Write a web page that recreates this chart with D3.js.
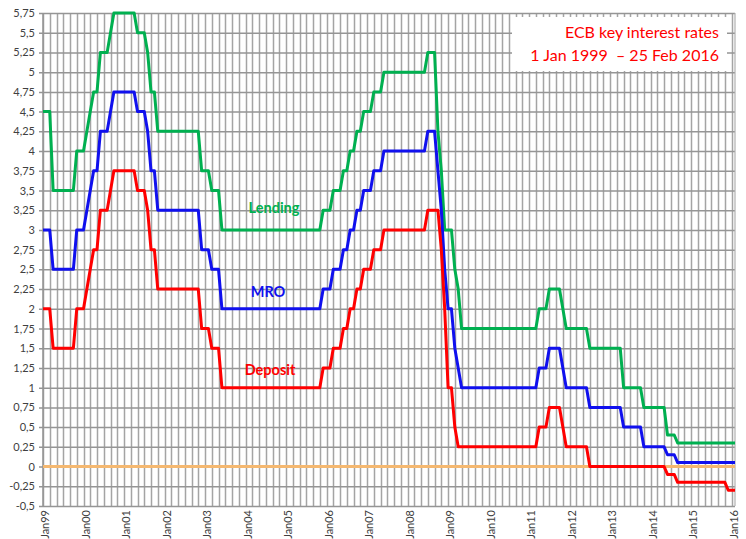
<!DOCTYPE html>
<html>
<head>
<meta charset="utf-8">
<script src="https://cdnjs.cloudflare.com/ajax/libs/d3/7.8.5/d3.min.js"></script>
<style>
  body { margin:0; background:#fff; }
  svg text { font-family: Lato, "Open Sans", "Liberation Sans", sans-serif; }
</style>
</head>
<body>
<div class="viz"></div>
<script>
'use strict';

// month-end rates, Jan 1999 .. Feb 2016 (one row per year)
var deposit = [
  2, 2, 2, 1.5, 1.5, 1.5, 1.5, 1.5, 1.5, 1.5, 2, 2,
  2, 2.25, 2.5, 2.75, 2.75, 3.25, 3.25, 3.25, 3.5, 3.75, 3.75, 3.75,
  3.75, 3.75, 3.75, 3.75, 3.5, 3.5, 3.5, 3.25, 2.75, 2.75, 2.25, 2.25,
  2.25, 2.25, 2.25, 2.25, 2.25, 2.25, 2.25, 2.25, 2.25, 2.25, 2.25, 1.75,
  1.75, 1.75, 1.5, 1.5, 1.5, 1, 1, 1, 1, 1, 1, 1,
  1, 1, 1, 1, 1, 1, 1, 1, 1, 1, 1, 1,
  1, 1, 1, 1, 1, 1, 1, 1, 1, 1, 1, 1.25,
  1.25, 1.25, 1.5, 1.5, 1.5, 1.75, 1.75, 2, 2, 2.25, 2.25, 2.5,
  2.5, 2.5, 2.75, 2.75, 2.75, 3, 3, 3, 3, 3, 3, 3,
  3, 3, 3, 3, 3, 3, 3.25, 3.25, 3.25, 3.25, 2.75, 2,
  1, 1, 0.5, 0.25, 0.25, 0.25, 0.25, 0.25, 0.25, 0.25, 0.25, 0.25,
  0.25, 0.25, 0.25, 0.25, 0.25, 0.25, 0.25, 0.25, 0.25, 0.25, 0.25, 0.25,
  0.25, 0.25, 0.25, 0.5, 0.5, 0.5, 0.75, 0.75, 0.75, 0.75, 0.5, 0.25,
  0.25, 0.25, 0.25, 0.25, 0.25, 0.25, 0, 0, 0, 0, 0, 0,
  0, 0, 0, 0, 0, 0, 0, 0, 0, 0, 0, 0,
  0, 0, 0, 0, 0, -0.1, -0.1, -0.1, -0.2, -0.2, -0.2, -0.2,
  -0.2, -0.2, -0.2, -0.2, -0.2, -0.2, -0.2, -0.2, -0.2, -0.2, -0.2, -0.3,
  -0.3, -0.3
]

var mro = [
  3, 3, 3, 2.5, 2.5, 2.5, 2.5, 2.5, 2.5, 2.5, 3, 3,
  3, 3.25, 3.5, 3.75, 3.75, 4.25, 4.25, 4.25, 4.5, 4.75, 4.75, 4.75,
  4.75, 4.75, 4.75, 4.75, 4.5, 4.5, 4.5, 4.25, 3.75, 3.75, 3.25, 3.25,
  3.25, 3.25, 3.25, 3.25, 3.25, 3.25, 3.25, 3.25, 3.25, 3.25, 3.25, 2.75,
  2.75, 2.75, 2.5, 2.5, 2.5, 2, 2, 2, 2, 2, 2, 2,
  2, 2, 2, 2, 2, 2, 2, 2, 2, 2, 2, 2,
  2, 2, 2, 2, 2, 2, 2, 2, 2, 2, 2, 2.25,
  2.25, 2.25, 2.5, 2.5, 2.5, 2.75, 2.75, 3, 3, 3.25, 3.25, 3.5,
  3.5, 3.5, 3.75, 3.75, 3.75, 4, 4, 4, 4, 4, 4, 4,
  4, 4, 4, 4, 4, 4, 4.25, 4.25, 4.25, 3.75, 3.25, 2.5,
  2, 2, 1.5, 1.25, 1, 1, 1, 1, 1, 1, 1, 1,
  1, 1, 1, 1, 1, 1, 1, 1, 1, 1, 1, 1,
  1, 1, 1, 1.25, 1.25, 1.25, 1.5, 1.5, 1.5, 1.5, 1.25, 1,
  1, 1, 1, 1, 1, 1, 0.75, 0.75, 0.75, 0.75, 0.75, 0.75,
  0.75, 0.75, 0.75, 0.75, 0.5, 0.5, 0.5, 0.5, 0.5, 0.5, 0.25, 0.25,
  0.25, 0.25, 0.25, 0.25, 0.25, 0.15, 0.15, 0.15, 0.05, 0.05, 0.05, 0.05,
  0.05, 0.05, 0.05, 0.05, 0.05, 0.05, 0.05, 0.05, 0.05, 0.05, 0.05, 0.05,
  0.05, 0.05
]

var lending = [
  4.5, 4.5, 4.5, 3.5, 3.5, 3.5, 3.5, 3.5, 3.5, 3.5, 4, 4,
  4, 4.25, 4.5, 4.75, 4.75, 5.25, 5.25, 5.25, 5.5, 5.75, 5.75, 5.75,
  5.75, 5.75, 5.75, 5.75, 5.5, 5.5, 5.5, 5.25, 4.75, 4.75, 4.25, 4.25,
  4.25, 4.25, 4.25, 4.25, 4.25, 4.25, 4.25, 4.25, 4.25, 4.25, 4.25, 3.75,
  3.75, 3.75, 3.5, 3.5, 3.5, 3, 3, 3, 3, 3, 3, 3,
  3, 3, 3, 3, 3, 3, 3, 3, 3, 3, 3, 3,
  3, 3, 3, 3, 3, 3, 3, 3, 3, 3, 3, 3.25,
  3.25, 3.25, 3.5, 3.5, 3.5, 3.75, 3.75, 4, 4, 4.25, 4.25, 4.5,
  4.5, 4.5, 4.75, 4.75, 4.75, 5, 5, 5, 5, 5, 5, 5,
  5, 5, 5, 5, 5, 5, 5.25, 5.25, 5.25, 4.25, 3.75, 3,
  3, 3, 2.5, 2.25, 1.75, 1.75, 1.75, 1.75, 1.75, 1.75, 1.75, 1.75,
  1.75, 1.75, 1.75, 1.75, 1.75, 1.75, 1.75, 1.75, 1.75, 1.75, 1.75, 1.75,
  1.75, 1.75, 1.75, 2, 2, 2, 2.25, 2.25, 2.25, 2.25, 2, 1.75,
  1.75, 1.75, 1.75, 1.75, 1.75, 1.75, 1.5, 1.5, 1.5, 1.5, 1.5, 1.5,
  1.5, 1.5, 1.5, 1.5, 1, 1, 1, 1, 1, 1, 0.75, 0.75,
  0.75, 0.75, 0.75, 0.75, 0.75, 0.4, 0.4, 0.4, 0.3, 0.3, 0.3, 0.3,
  0.3, 0.3, 0.3, 0.3, 0.3, 0.3, 0.3, 0.3, 0.3, 0.3, 0.3, 0.3,
  0.3, 0.3
]

var yearLabels = ['Jan99','Jan00','Jan01','Jan02','Jan03','Jan04','Jan05','Jan06','Jan07',
                  'Jan08','Jan09','Jan10','Jan11','Jan12','Jan13','Jan14','Jan15','Jan16']

var yTicks = [-0.5,-0.25,0,0.25,0.5,0.75,1,1.25,1.5,1.75,2,2.25,2.5,2.75,3,3.25,3.5,3.75,
              4,4.25,4.5,4.75,5,5.25,5.5,5.75]

var seriesNames = ['Lending','MRO','Deposit']
var titleLines = ['ECB key interest rates', '1 Jan 1999  \u2013 25 Feb 2016']

var width = 746, height = 539
var margin = {top:13, right:11, bottom:33, left:43}

var svg = d3.select(".viz")
  .append("svg")
  .attr("width", width)
  .attr("height", height)

var x = d3.scaleLinear().domain([0, deposit.length - 1]).range([margin.left, width - margin.right])
var y = d3.scaleLinear().domain([-0.5, 5.75]).range([height - margin.bottom, margin.top])

//grid: vertical line every 2 months
var monthIdx = d3.range(0, deposit.length, 2)
svg.append("g").attr("class","vgrid").selectAll("line")
  .data(monthIdx)
  .enter()
  .append("line")
  .attr("x1", function(d){ return Math.round(x(d)) + 0.5 })
  .attr("x2", function(d){ return Math.round(x(d)) + 0.5 })
  .attr("y1", y(5.75))
  .attr("y2", y(-0.5))
  .attr("stroke", "#a4a4a4")
  .attr("stroke-width", 1.5)

//horizontal grid + y axis
var yAxis = d3.axisLeft(y)
  .tickValues(yTicks)
  .tickSize(-(x.range()[1] - x.range()[0]))
  .tickPadding(8)
  .tickFormat(function(d){ return String(d).replace('.', ',') })

var gy = svg.append("g")
  .attr("transform", "translate(" + margin.left + ",0)")
  .call(yAxis)
gy.select(".domain").remove()
gy.selectAll(".tick line").attr("stroke", "#959595").attr("stroke-width", 1.5).attr("x1", -4)
gy.selectAll(".tick text").attr("fill", "#404040").attr("font-size", 11)

// axis frame
svg.append("line")
  .attr("x1", margin.left).attr("x2", margin.left)
  .attr("y1", y(5.75)).attr("y2", y(-0.5))
  .attr("stroke", "#959595").attr("stroke-width", 1.5)
svg.append("line")
  .attr("x1", x.range()[1]).attr("x2", x.range()[1])
  .attr("y1", y(5.75)).attr("y2", y(-0.5))
  .attr("stroke", "#b0b0b0").attr("stroke-width", 1.2)

//x labels
svg.append("g").attr("class","xlabels").selectAll("text")
  .data(yearLabels)
  .enter()
  .append("text")
  .attr("transform", function(d,i){
    return "translate(" + (x(i*12) + 2.5) + "," + (y(-0.5) + 4) + ") rotate(-90)"
  })
  .attr("text-anchor", "end")
  .attr("dy", "0.35em")
  .attr("font-size", 11)
  .attr("fill", "#404040")
  .text(function(d){ return d })

// zero line
svg.append("line")
  .attr("x1", x.range()[0]).attr("x2", x.range()[1])
  .attr("y1", y(0)).attr("y2", y(0))
  .attr("stroke", "#f5b870")
  .attr("stroke-width", 3)

//series lines
var line = d3.line()
  .x(function(d,i){ return x(i) })
  .y(function(d){ return y(d) })

var series = [
  {name: seriesNames[0], values: lending, color: "#00b050"},
  {name: seriesNames[1], values: mro, color: "#1010ee"},
  {name: seriesNames[2], values: deposit, color: "#ff0000"}
]

svg.append("g").attr("class","series").selectAll("path")
  .data(series)
  .enter()
  .append("path")
  .attr("d", function(d){ return line(d.values) })
  .attr("fill", "none")
  .attr("stroke", function(d){ return d.color })
  .attr("stroke-width", 3)
  .attr("stroke-linejoin", "round")

// series labels
var labelPos = [{x:274, y:208}, {x:268, y:292}, {x:270, y:370}]
svg.append("g").attr("class","series-labels").selectAll("text")
  .data(series)
  .enter()
  .append("text")
  .attr("x", function(d,i){ return labelPos[i].x })
  .attr("y", function(d,i){ return labelPos[i].y })
  .attr("dy", "0.35em")
  .attr("text-anchor", "middle")
  .attr("font-size", 14.5)
  .attr("font-weight", "bold")
  .attr("fill", function(d){ return d.color })
  .text(function(d){ return d.name })

//title box
svg.append("rect")
  .attr("x", 512).attr("y", 17)
  .attr("width", 215).attr("height", 54)
  .attr("fill", "#fff")

svg.append("g").attr("class","title").selectAll("text")
  .data(titleLines)
  .enter()
  .append("text")
  .attr("x", 719)
  .attr("y", function(d,i){ return 38 + i*23 })
  .attr("text-anchor", "end")
  .attr("font-size", 16)
  .attr("fill", "#ff0000")
  .style("white-space", "pre")
  .text(function(d){ return d })

</script>
</body>
</html>
